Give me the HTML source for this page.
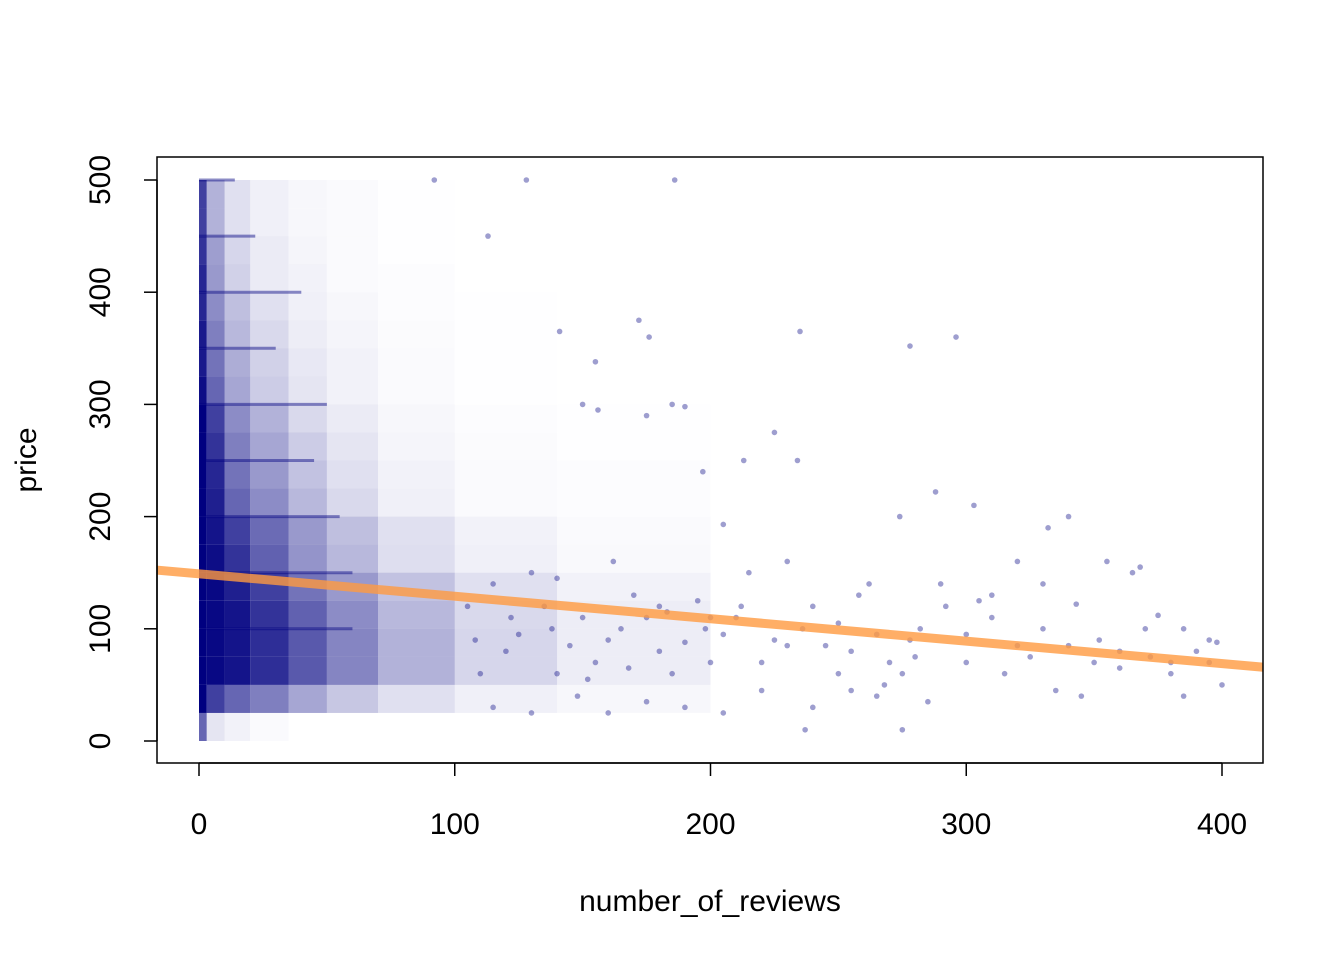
<!DOCTYPE html>
<html><head><meta charset="utf-8"><style>
html,body{margin:0;padding:0;background:#fff;}
svg{display:block;font-family:"Liberation Sans",Arial,sans-serif;}
</style></head><body>
<svg id="chart" width="1344" height="960" viewBox="0 0 1344 960">
<rect width="1344" height="960" fill="#fff"/>
<g id="marks"></g>
<rect x="157" y="157" width="1106" height="606" fill="none" stroke="#000" stroke-width="1.5"/>
<g id="axes"></g>
<text x="710" y="911" font-size="30" text-anchor="middle">number_of_reviews</text>
<text transform="translate(36,460) rotate(-90)" font-size="30" text-anchor="middle">price</text>
</svg>
<script>
// ---- data ----
const xTicks = [0, 100, 200, 300, 400];
const yTicks = [0, 100, 200, 300, 400, 500];
const binEdgesX = [0, 3, 10, 20, 35, 50, 70, 100, 140, 200];
const binEdgesY = [0, 25, 50, 75, 100, 125, 150, 175, 200, 225, 250, 275, 300, 325, 350, 375, 400, 425, 450, 475, 500];
const densityByColumn = [
  [0.6,1,1,1,1,1,1,1,1,1,1,1,0.95,0.9,0.9,0.85,0.85,0.8,0.75,0.75],
  [0.1,0.75,0.97,0.97,0.97,0.97,0.95,0.92,0.88,0.85,0.8,0.75,0.6,0.55,0.5,0.45,0.4,0.38,0.3,0.3],
  [0.05,0.6,0.92,0.92,0.92,0.88,0.8,0.75,0.6,0.55,0.5,0.45,0.35,0.32,0.28,0.25,0.18,0.16,0.12,0.12],
  [0.02,0.5,0.82,0.82,0.8,0.75,0.62,0.58,0.45,0.4,0.35,0.3,0.2,0.18,0.15,0.12,0.08,0.08,0.06,0.06],
  [0,0.35,0.65,0.65,0.62,0.55,0.42,0.4,0.28,0.24,0.2,0.15,0.1,0.09,0.07,0.06,0.05,0.04,0.03,0.03],
  [0,0.22,0.48,0.48,0.45,0.4,0.28,0.25,0.15,0.12,0.1,0.08,0.05,0.05,0.04,0.03,0.02,0.02,0.02,0.02],
  [0,0.12,0.3,0.3,0.28,0.24,0.13,0.12,0.06,0.05,0.04,0.03,0.02,0.02,0.015,0.01,0.01,0.005,0.005,0.005],
  [0,0.06,0.16,0.16,0.15,0.12,0.06,0.05,0.02,0.02,0.015,0.01,0.005,0.005,0.005,0.005,0,0,0,0],
  [0,0.03,0.07,0.07,0.07,0.05,0.025,0.02,0.01,0.01,0.005,0.005,0,0,0,0,0,0,0,0]
];
const stripePrices = [500, 450, 400, 350, 300, 250, 200, 150, 100];
const stripeLengths = [14, 22, 40, 30, 50, 45, 55, 60, 60];
const sparseReviews = [186,128,92,113,172,176,141,235,296,278,155,156,150,175,185,197,213,225,234,190,205,274,288,303,332,340,355,368,365,352,372,380,390,398,395,400,385,375,343,330,320,310,300,292,282,278,275,270,262,258,250,240,236,230,225,220,215,210,205,200,195,190,185,180,175,170,165,160,155,150,145,140,135,130,125,120,115,110,105,237,275,265,250,240,220,205,190,175,160,148,130,115,245,255,268,285,300,315,325,335,345,360,370,385,395,310,290,320,350,330,265,212,198,183,168,152,138,122,108,140,162,180,200,230,255,280,305,340,360,380];
const sparsePrices = [500,500,500,450,375,360,365,365,360,352,338,295,300,290,300,240,250,275,250,298,193,200,222,210,190,200,160,155,150,90,75,60,80,88,70,50,40,112,122,140,160,110,95,120,100,90,60,70,140,130,105,120,100,160,90,70,150,110,95,70,125,88,60,80,110,130,100,90,70,110,85,60,120,150,95,80,140,60,120,10,10,40,60,30,45,25,30,35,25,40,25,30,85,45,50,35,70,60,75,45,40,65,100,100,90,130,140,85,70,100,95,120,100,115,65,55,100,110,90,145,160,120,110,85,80,75,125,85,80,70];
const fitIntercept = 149;
const fitSlope = -0.2;

// ---- scales ----
const sx = v => 199 + v * (1222 - 199) / 400;
const sy = v => 741 - v * (741 - 180) / 500;
const NS = "http://www.w3.org/2000/svg";
const marks = document.getElementById('marks');
const axes = document.getElementById('axes');
function mk(tag, attrs, parent){const e=document.createElementNS(NS,tag);for(const k in attrs)e.setAttribute(k,attrs[k]);parent.appendChild(e);return e;}

const clip = mk('clipPath',{id:'pc'},marks);
mk('rect',{x:157,y:157,width:1106,height:606},clip);
const g = mk('g',{'clip-path':'url(#pc)'},marks);

densityByColumn.forEach((col, i) => {
  col.forEach((a, j) => {
    if (a <= 0) return;
    const r = mk('rect',{x:sx(binEdgesX[i]), y:sy(binEdgesY[j+1]), width:sx(binEdgesX[i+1])-sx(binEdgesX[i]), height:sy(binEdgesY[j])-sy(binEdgesY[j+1]), fill:'#000080', 'fill-opacity':a}, g);
    
    
  });
});
stripePrices.forEach((p, i) => {
  const l = mk('line',{x1:sx(0), x2:sx(stripeLengths[i]), y1:sy(p), y2:sy(p), stroke:'#000080', 'stroke-width':3, 'stroke-opacity':0.45}, g);
  
  
});
sparseReviews.forEach((r, i) => {
  const c = mk('circle',{cx:sx(r), cy:sy(sparsePrices[i]), r:2.8, fill:'#000080', 'fill-opacity':0.38}, g);
  
  
});
const x0 = -20, x1 = 420;
const fit = mk('line',{x1:sx(x0), y1:sy(fitIntercept+fitSlope*x0), x2:sx(x1), y2:sy(fitIntercept+fitSlope*x1), stroke:'#ff9a40', 'stroke-width':9, 'stroke-opacity':0.8}, g);



mk('line',{x1:sx(xTicks[0]),x2:sx(xTicks[xTicks.length-1]),y1:763,y2:763,stroke:'#000','stroke-width':1.5},axes);
xTicks.forEach(t => {
  mk('line',{x1:sx(t),x2:sx(t),y1:763,y2:776,stroke:'#000','stroke-width':1.5},axes);
  const tx = mk('text',{x:sx(t),y:834,'font-size':30,'text-anchor':'middle'},axes);
  tx.textContent = t;
  
  
});
mk('line',{x1:157,x2:157,y1:sy(yTicks[0]),y2:sy(yTicks[yTicks.length-1]),stroke:'#000','stroke-width':1.5},axes);
yTicks.forEach(t => {
  mk('line',{x1:144,x2:157,y1:sy(t),y2:sy(t),stroke:'#000','stroke-width':1.5},axes);
  const tx = mk('text',{transform:`translate(110,${sy(t)}) rotate(-90)`,'font-size':30,'text-anchor':'middle'},axes);
  tx.textContent = t;
  
  
});
</script>
</body></html>
